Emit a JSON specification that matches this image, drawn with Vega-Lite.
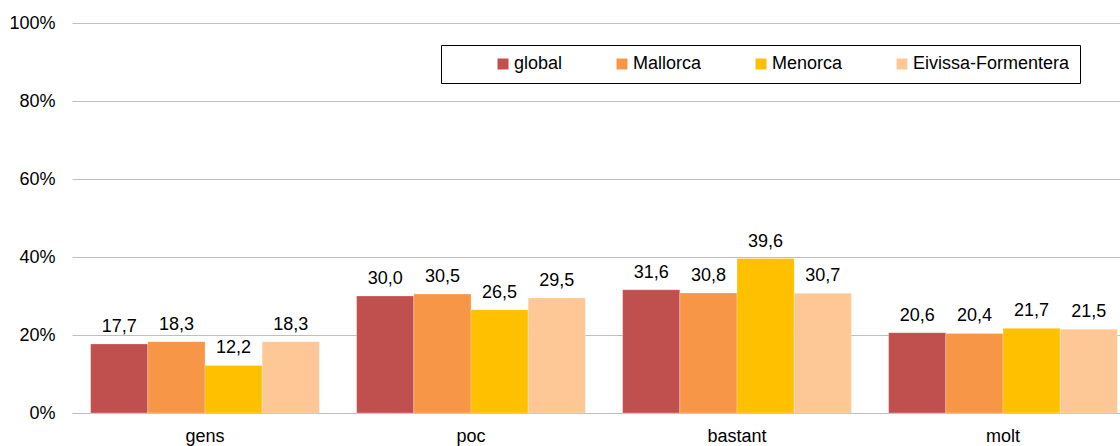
{
  "$schema": "https://vega.github.io/schema/vega-lite/v6.json",
  "width": 1048,
  "height": 390,
  "autosize": {"type": "none"},
  "padding": {"left": 72, "top": 23, "right": 0, "bottom": 33},
  "config": {
    "font": "Liberation Sans",
    "view": {"stroke": null},
    "locale": {"number": {"decimal": ",", "thousands": ".", "grouping": [3], "currency": ["", " €"]}}
  },
  "data": {
    "values": [
      {"cat": "gens", "serie": "global", "v": 17.7},
      {"cat": "gens", "serie": "Mallorca", "v": 18.3},
      {"cat": "gens", "serie": "Menorca", "v": 12.2},
      {"cat": "gens", "serie": "Eivissa-Formentera", "v": 18.3},
      {"cat": "poc", "serie": "global", "v": 30.0},
      {"cat": "poc", "serie": "Mallorca", "v": 30.5},
      {"cat": "poc", "serie": "Menorca", "v": 26.5},
      {"cat": "poc", "serie": "Eivissa-Formentera", "v": 29.5},
      {"cat": "bastant", "serie": "global", "v": 31.6},
      {"cat": "bastant", "serie": "Mallorca", "v": 30.8},
      {"cat": "bastant", "serie": "Menorca", "v": 39.6},
      {"cat": "bastant", "serie": "Eivissa-Formentera", "v": 30.7},
      {"cat": "molt", "serie": "global", "v": 20.6},
      {"cat": "molt", "serie": "Mallorca", "v": 20.4},
      {"cat": "molt", "serie": "Menorca", "v": 21.7},
      {"cat": "molt", "serie": "Eivissa-Formentera", "v": 21.5}
    ]
  },
  "encoding": {
    "x": {
      "field": "cat", "type": "nominal", "sort": ["gens", "poc", "bastant", "molt"],
      "scale": {"range": [0, 1064], "paddingInner": 0.14, "paddingOuter": 0.07},
      "axis": {"title": null, "domain": false, "ticks": false, "labelAngle": 0, "labelFontSize": 18, "labelColor": "#000000", "labelPadding": 14}
    },
    "xOffset": {"field": "serie", "type": "nominal", "sort": ["global", "Mallorca", "Menorca", "Eivissa-Formentera"]},
    "y": {
      "field": "v", "type": "quantitative",
      "scale": {"domain": [0, 100], "nice": false},
      "axis": {"title": null, "values": [0, 20, 40, 60, 80, 100], "labelExpr": "datum.value + '%'", "domain": false, "ticks": false, "labelPadding": 17, "labelFontSize": 18, "labelColor": "#000000", "gridColor": "#BFBFBF", "gridWidth": 1.2}
    }
  },
  "layer": [
    {
      "mark": {"type": "bar", "stroke": "#ffffff", "strokeWidth": 0.5, "strokeOpacity": 0.5},
      "encoding": {
        "color": {
          "field": "serie", "type": "nominal",
          "scale": {"domain": ["global", "Mallorca", "Menorca", "Eivissa-Formentera"], "range": ["#C0504D", "#F79646", "#FFC000", "#FDC896"]},
          "legend": {
            "title": "\u00a0", "titleOrient": "left", "titlePadding": 43, "titleFontSize": 18,
            "orient": "none", "legendX": 369, "legendY": 22, "direction": "horizontal",
            "symbolType": "square", "symbolSize": 121, "symbolStrokeWidth": 0,
            "labelFontSize": 18, "labelColor": "#000000", "labelOffset": 2, "columnPadding": 50,
            "padding": 10, "strokeColor": "#000000", "fillColor": "#ffffff",
            "encode": {"legend": {"update": {"strokeWidth": {"value": 1.5}}}}
          }
        }
      }
    },
    {
      "mark": {"type": "text", "baseline": "alphabetic", "dy": -12, "fontSize": 18, "color": "#000000"},
      "encoding": {"text": {"field": "v", "type": "quantitative", "format": ".1f"}}
    }
  ]
}
